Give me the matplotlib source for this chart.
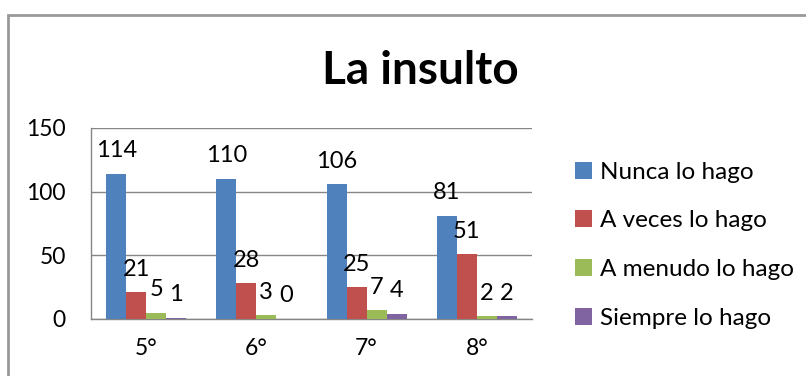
import numpy as np
import matplotlib.pyplot as plt
from matplotlib.patches import Rectangle

plt.rcParams['font.family'] = ['Lato', 'DejaVu Sans']

# datos
grados = ['5°', '6°', '7°', '8°']
series = ['Nunca lo hago', 'A veces lo hago', 'A menudo lo hago', 'Siempre lo hago']
nunca = [114, 110, 106, 81]
a_veces = [21, 28, 25, 51]
a_menudo = [5, 3, 7, 2]
siempre = [1, 0, 4, 2]
valores = [nunca, a_veces, a_menudo, siempre]
colores = ['#4F81BD', '#C0504D', '#9BBB59', '#8064A2']

fig = plt.figure(figsize=(8.06, 3.76), dpi=100)
ax = fig.add_axes([0.1129, 0.1516, 0.5471, 0.508])

# borde del grafico
fig.patches.append(Rectangle((8 / 806, -0.1), 1.1, 1 - 15 / 376 + 0.1, transform=fig.transFigure,
                             fill=False, edgecolor='#999999', linewidth=2))

x = np.arange(len(grados))
w = 0.181
for i, (vals, nombre, col) in enumerate(zip(valores, series, colores)):
    bars = ax.bar(x + (i - 1.5) * w, vals, w, color=col, label=nombre, zorder=3)
    ax.bar_label(bars, padding=9, fontsize=17)

ax.set_ylim(0, 150)
ax.set_xlim(-0.5, 3.5)
ax.set_yticks([0, 50, 100, 150])
ax.set_xticks(x)
ax.set_xticklabels(grados)
ax.tick_params(axis='both', length=0, labelsize=16.5)
ax.tick_params(axis='y', pad=18)
ax.tick_params(axis='x', pad=14)
ax.grid(axis='y', color='#868686', linewidth=1, zorder=0)
for s in ['right', 'top']:
    ax.spines[s].set_visible(False)
for s in ['left', 'bottom']:
    ax.spines[s].set_color('#868686')
    ax.spines[s].set_linewidth(1)

fig.text(0.521, 0.81, 'La insulto', fontsize=33, fontweight='bold', ha='center', va='center')

fig.legend(loc='upper left', bbox_to_anchor=(0.713, 0.57), frameon=False, fontsize=17.5,
           handlelength=0.7, handleheight=0.7, handletextpad=0.35, labelspacing=1.14,
           borderaxespad=0, borderpad=0)

fig.savefig('out.png', dpi=100)
